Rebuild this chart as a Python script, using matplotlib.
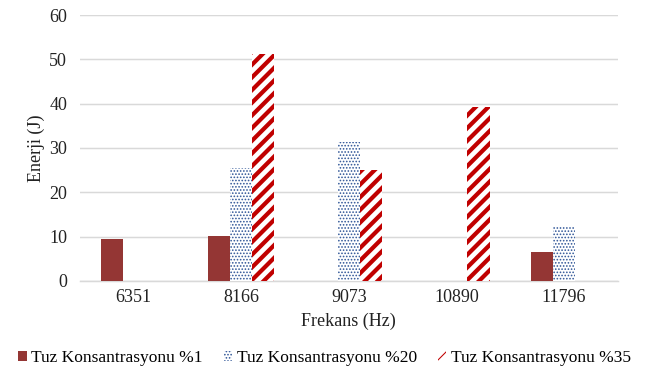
import matplotlib
matplotlib.use("Agg")
import matplotlib.pyplot as plt
import numpy as np

# Energy per frequency for three salt concentrations
FREQS = ["6351", "8166", "9073", "10890", "11796"]
E_1 = [9.5, 10.1, 0, 0, 6.5]
E_20 = [0, 25.5, 31.4, 0, 12.4]
E_35 = [0, 51.2, 25.0, 39.3, 0]
LABELS = ["Tuz Konsantrasyonu %1", "Tuz Konsantrasyonu %20", "Tuz Konsantrasyonu %35"]

DPI = 76
plt.rcParams["font.family"] = ["Liberation Serif", "DejaVu Serif"]

fig = plt.figure(figsize=(649 / DPI, 378 / DPI), dpi=DPI)
ax = fig.add_axes([0.123, 0.257, 0.829, 0.703])

x = np.arange(len(FREQS))
w = 0.205
styles = [
    dict(face="#943634", edge="#943634", hatch=None, hlw=1.0),
    dict(face="white", edge="#2F5597", hatch="....", hlw=1.0),
    dict(face="white", edge="#C00000", hatch="//", hlw=4.0),
]
for i, (vals, lab, st) in enumerate(zip([E_1, E_20, E_35], LABELS, styles)):
    vals = np.array(vals, dtype=float)
    pos = x + (i - 1) * w
    with plt.rc_context({"hatch.linewidth": st["hlw"]}):
        ax.bar(pos, vals, w, facecolor=st["face"], edgecolor=st["edge"],
               hatch=st["hatch"], linewidth=0, label=lab, zorder=3)

ax.set_xlim(-0.5, len(FREQS) - 0.5)
ax.set_ylim(0, 60)
ax.set_yticks(range(0, 61, 10))
ax.set_xticks(x)
ax.set_xticklabels(FREQS)
ax.yaxis.grid(True, color="#D9D9D9", linewidth=1.4, zorder=0)
ax.set_axisbelow(True)
for s in ["top", "right", "left"]:
    ax.spines[s].set_visible(False)
ax.spines["bottom"].set_color("#D9D9D9")
ax.spines["bottom"].set_linewidth(1.4)
ax.tick_params(axis="both", length=0, labelsize=17, colors="#222222")
ax.tick_params(axis="x", pad=8)
ax.tick_params(axis="y", pad=12)

ax.set_ylabel("Enerji (J)", fontsize=17, color="#222222", labelpad=4)
ax.set_xlabel("Frekans (Hz)", fontsize=17, color="#222222", labelpad=6)

fig.legend(loc="lower center", bbox_to_anchor=(0.5, -0.01), ncol=3, frameon=False,
           fontsize=16.5, handlelength=0.5, handleheight=0.5, handletextpad=0.25,
           columnspacing=1.2)

fig.savefig("out.png", dpi=DPI)
